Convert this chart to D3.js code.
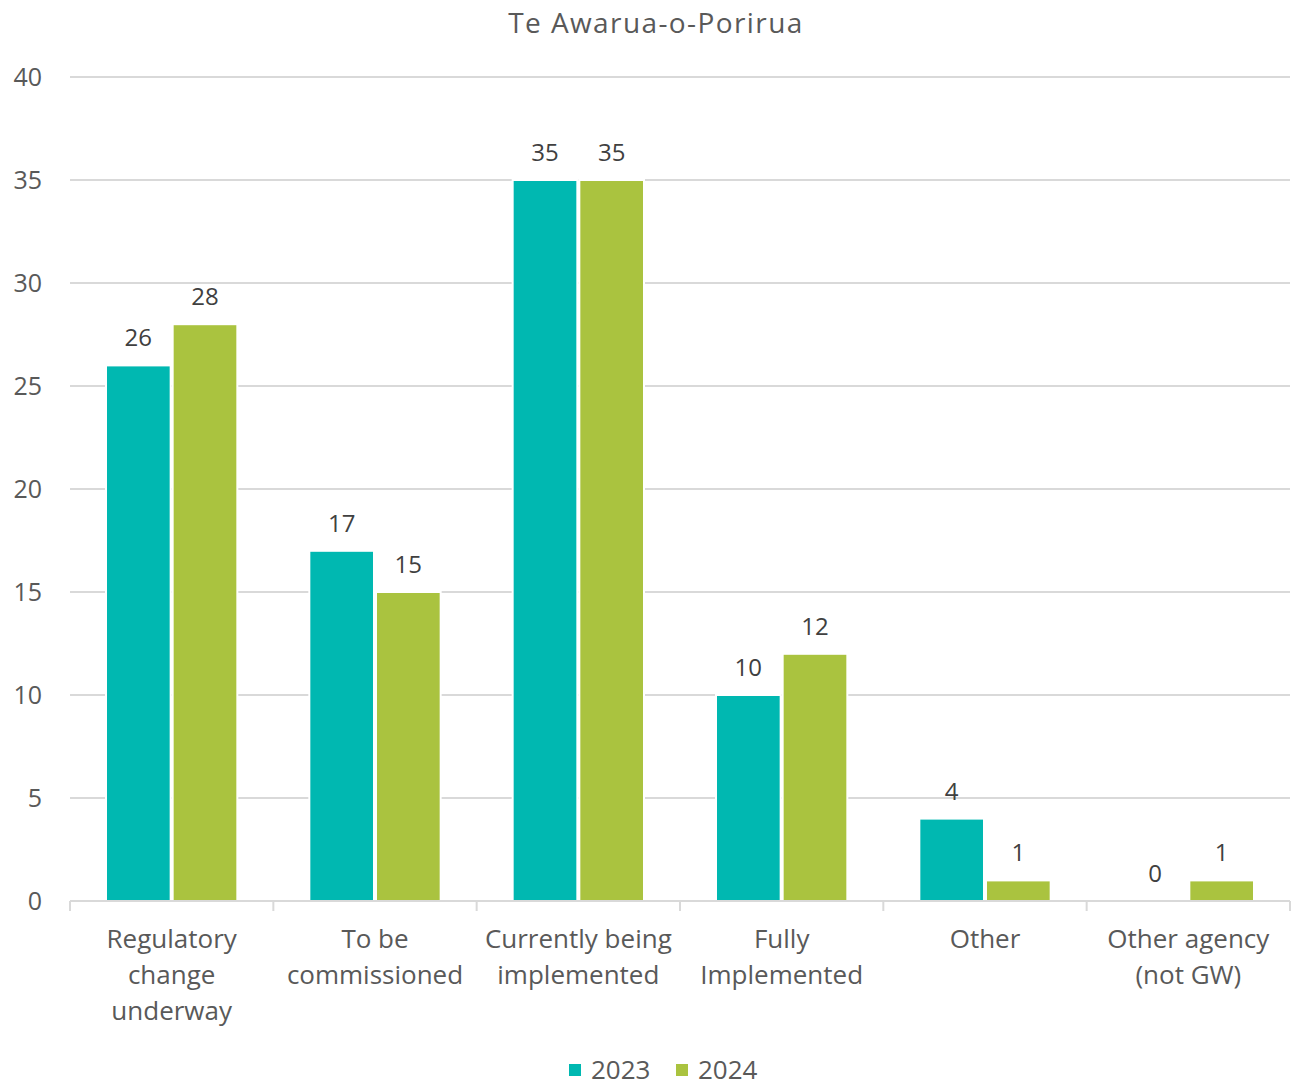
<!DOCTYPE html>
<html><head><meta charset="utf-8">
<script src="https://cdn.jsdelivr.net/npm/d3@7"></script>
<style>body{margin:0;background:#fff;} text{font-family:"Open Sans",sans-serif;fill:#595959;}</style>
</head><body><svg id="c" width="1300" height="1087"></svg>
<script>
const categories = [["Regulatory","change","underway"],["To be","commissioned"],["Currently being","implemented"],["Fully","Implemented"],["Other"],["Other agency","(not GW)"]];
const seriesNames = ["2023","2024"];
const values2023 = [26,17,35,10,4,0];
const values2024 = [28,15,35,12,1,1];
const yTicks = [0,5,10,15,20,25,30,35,40];
const colors = ["#00B8B1","#AAC33F"];

const svg = d3.select("#c");
const x = d3.scaleBand().domain(d3.range(categories.length)).range([70,1290]).paddingInner(0).paddingOuter(0);
const y = d3.scaleLinear().domain([0,40]).range([901,77]);
const xs = d3.scaleBand().domain([0,1]).range([36, x.bandwidth()-36]).paddingInner(0.03);

// gridlines
svg.append("g").selectAll("line").data(yTicks.filter(d=>d>0)).join("line")
  .attr("x1",70).attr("x2",1290).attr("y1",d=>y(d)).attr("y2",d=>y(d))
  .attr("stroke","#D9D9D9").attr("stroke-width",2);
// y labels
svg.append("g").selectAll("text").data(yTicks).join("text")
  .attr("x",42).attr("y",d=>y(d)+9).attr("text-anchor","end").attr("font-size",25).text(d=>d);

const series = [values2023, values2024];
series.forEach((vals,si)=>{
  const g = svg.append("g");
  g.selectAll("rect").data(vals).join("rect")
    .filter(d=>d>0)
    .attr("x",(d,i)=>x(i)+xs(si)).attr("width",xs.bandwidth())
    .attr("y",d=>y(d)).attr("height",d=>y(0)-y(d))
    .attr("fill",colors[si]).attr("stroke","#fff").attr("stroke-width",2);
  g.selectAll("text").data(vals).join("text")
    .attr("x",(d,i)=>x(i)+xs(si)+xs.bandwidth()/2).attr("y",d=>y(d)-19)
    .attr("text-anchor","middle").attr("font-size",24).style("fill","#404040").text(d=>d);
});

// x axis
svg.append("line").attr("x1",70).attr("x2",1290).attr("y1",901).attr("y2",901).attr("stroke","#D9D9D9").attr("stroke-width",2);
svg.append("g").selectAll("line").data(d3.range(categories.length+1)).join("line")
  .attr("x1",d=>70+d*x.bandwidth()).attr("x2",d=>70+d*x.bandwidth()).attr("y1",901).attr("y2",911)
  .attr("stroke","#D9D9D9").attr("stroke-width",2);
const cl = svg.append("g").selectAll("text").data(categories).join("text")
  .attr("x",(d,i)=>x(i)+x.bandwidth()/2).attr("y",948).attr("text-anchor","middle").attr("font-size",26);
cl.selectAll("tspan").data(d=>d).join("tspan")
  .attr("x",function(){return this.parentNode.getAttribute("x");})
  .attr("dy",(d,i)=>i===0?0:36).text(d=>d);

// title
svg.append("text").attr("x",656).attr("y",33).attr("text-anchor","middle").attr("font-size",28).attr("letter-spacing",1.4).text("Te Awarua-o-Porirua");

// legend
const legX = [569,676];
seriesNames.forEach((n,i)=>{
  svg.append("rect").attr("x",legX[i]).attr("y",1064).attr("width",12).attr("height",12).attr("fill",colors[i]);
  svg.append("text").attr("x",legX[i]+22).attr("y",1079).attr("font-size",26).text(n);
});
</script></body></html>
